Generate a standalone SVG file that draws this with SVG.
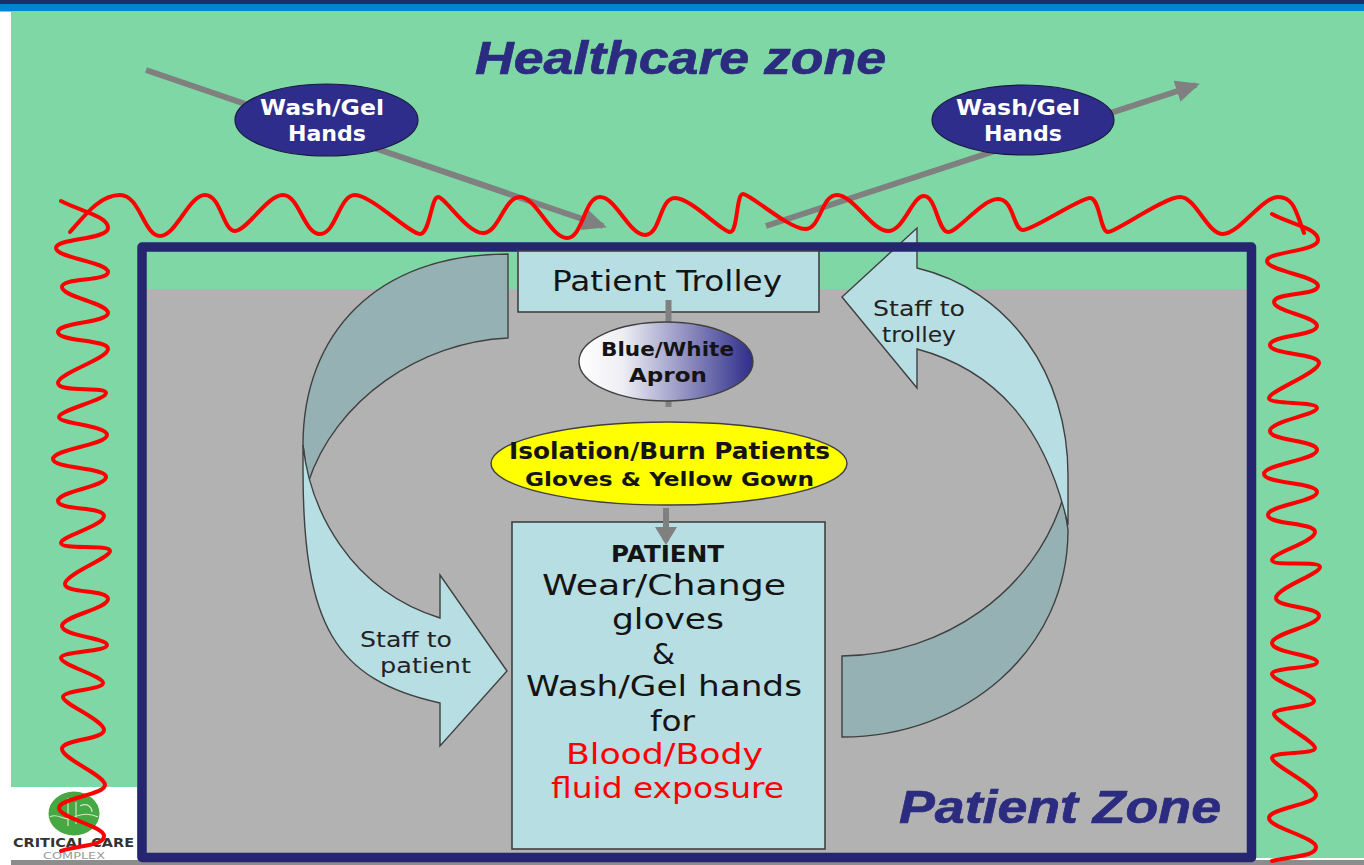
<svg xmlns="http://www.w3.org/2000/svg" width="1364" height="865" viewBox="0 0 1364 865">
<style>
text{font-family:"DejaVu Sans","Liberation Sans",sans-serif;fill:#141414}
.b{font-weight:bold}
.w{fill:#fff;font-weight:bold;font-size:22px}
.r{fill:#f00}
.h{font-family:"Liberation Sans",Arial,sans-serif;font-weight:bold;font-style:italic;fill:#2b2b80;stroke:#2b2b80;stroke-width:.7}
.wave{fill:none;stroke:#f00;stroke-width:4;stroke-linecap:round;stroke-linejoin:round}
.g{stroke:#808080;stroke-width:6;fill:none}
.box{fill:#b7dee3;stroke:#404040;stroke-width:1.6}
.lt{fill:#b7dee3;stroke:#404040;stroke-width:1.4;stroke-linejoin:miter}
.dk{fill:#96b1b3;stroke:#404040;stroke-width:1.4}
.s{font-size:22px;fill:#222}
.m{font-size:29px}
</style>
<defs>
<linearGradient id="apronFill" x1="0" x2="1" y1="0" y2="0"><stop offset="0" stop-color="#fff"/><stop offset="0.25" stop-color="#eeeef4"/><stop offset="1" stop-color="#2e2d8b"/></linearGradient>
<marker id="ah" markerUnits="userSpaceOnUse" markerWidth="26" markerHeight="24" refX="20" refY="11" orient="auto"><path d="M0 0L24 11L0 22z" fill="#808080"/></marker>
<marker id="ahs" markerUnits="userSpaceOnUse" markerWidth="20" markerHeight="24" refX="14" refY="11" orient="auto"><path d="M0 0L18 11L0 22z" fill="#808080"/></marker>
</defs>

<g id="background">
<rect width="1364" height="865" fill="#fff"/>
<rect x="0" y="0" width="1364" height="4" fill="#1a2f6b"/>
<rect x="0" y="4" width="1364" height="7.5" fill="#0085d5"/>
<rect x="11" y="11.5" width="1353" height="846.5" fill="#7fd7a6"/>
<rect x="11" y="787" width="126" height="73" fill="#fff"/>
<rect x="1256" y="858" width="108" height="1.5" fill="#fff"/>
<rect x="11" y="860" width="1353" height="5" fill="#8c8c8c"/>
<rect x="147" y="289" width="1100" height="566" fill="#b2b2b2"/>
</g>

<g id="logo">
<ellipse cx="74" cy="813.500" rx="25.500" ry="22" fill="#46a843"/>
<path d="M50 817C58 812 64 822 72 818S88 812 98 817M68 798V826M76 802V824M80 806C88 802 92 808 92 812" fill="none" stroke="#cfe8c8" stroke-width="1.200"/>
<text x="13" y="847" class="b" font-size="12.500" textLength="121" lengthAdjust="spacingAndGlyphs" style="fill:#333">CRITICAL CARE</text>
<text x="43" y="859" font-size="9" textLength="62" lengthAdjust="spacingAndGlyphs" style="fill:#999">COMPLEX</text>
</g>

<g id="connectors">
<line x1="146" y1="70" x2="603" y2="226" class="g" marker-end="url(#ah)"/>
<line x1="766" y1="226" x2="1196" y2="85" class="g" marker-end="url(#ah)"/>
</g>

<g id="staff-to-patient-arrow">
<path class="dk" d="M508 254C375 254 303 335 303 445L308 483C335 400 420 342 508 338Z"/>
<path class="lt" d="M303 445C310 510 350 590 440 618V575L507 671L440 746V703C335 680 303 625 303 470Z"/>
</g>
<g id="staff-to-trolley-arrow">
<path class="dk" d="M842 656C945 655 1035 590 1063 498L1068 530C1068 650 965 737 842 737Z"/>
<path class="lt" d="M917 268C1010 290 1068 375 1068 475V525C1045 425 995 370 917 349V388L842 297L917 228Z"/>
</g>

<g id="patient-zone-frame">
<rect x="142" y="247" width="1109.500" height="610.500" fill="none" stroke="#26256f" stroke-width="9.500" stroke-linejoin="round"/>
</g>

<g id="patient-trolley">
<rect class="box" x="518" y="251" width="301" height="61"/>
<text x="552" y="291" class="m" textLength="230" lengthAdjust="spacingAndGlyphs">Patient Trolley</text>
</g>
<g id="trolley-apron-connector">
<line x1="668.500" y1="300" x2="668.500" y2="407" class="g"/>
</g>
<g id="apron">
<ellipse cx="666" cy="361.500" rx="87" ry="39.500" fill="url(#apronFill)" stroke="#404040" stroke-width="1.400"/>
<text x="601" y="356" class="b" font-size="20" textLength="133" lengthAdjust="spacingAndGlyphs">Blue/White</text>
<text x="629" y="382" class="b" font-size="20" textLength="78" lengthAdjust="spacingAndGlyphs">Apron</text>
</g>
<g id="isolation">
<ellipse cx="669" cy="463.500" rx="178" ry="41.500" fill="#ff0" stroke="#404040" stroke-width="1.400"/>
<text x="509" y="459" class="b" font-size="23" textLength="321" lengthAdjust="spacingAndGlyphs">Isolation/Burn Patients</text>
<text x="525" y="486" class="b" font-size="20" textLength="289" lengthAdjust="spacingAndGlyphs">Gloves &amp; Yellow Gown</text>
</g>
<g id="patient">
<rect class="box" x="512" y="522" width="313" height="327"/>
<text x="611" y="562" class="b" font-size="23" textLength="113" lengthAdjust="spacingAndGlyphs">PATIENT</text>
<text x="542" y="595" class="m" textLength="244" lengthAdjust="spacingAndGlyphs">Wear/Change</text>
<text x="612" y="629" class="m" textLength="112" lengthAdjust="spacingAndGlyphs">gloves</text>
<text x="652" y="664" class="m" textLength="23" lengthAdjust="spacingAndGlyphs">&amp;</text>
<text x="526" y="696" class="m" textLength="276" lengthAdjust="spacingAndGlyphs">Wash/Gel hands</text>
<text x="650" y="731" class="m" textLength="45" lengthAdjust="spacingAndGlyphs">for</text>
<text x="566" y="764" class="m r" textLength="197" lengthAdjust="spacingAndGlyphs">Blood/Body</text>
<text x="551" y="798" class="m r" textLength="233" lengthAdjust="spacingAndGlyphs">fluid exposure</text>
</g>
<g id="isolation-patient-connector">
<line x1="666" y1="508" x2="666" y2="541" class="g" marker-end="url(#ahs)"/>
</g>
<g id="staff-labels">
<text x="360" y="647" class="s" textLength="92" lengthAdjust="spacingAndGlyphs">Staff to</text>
<text x="380" y="673" class="s" textLength="91" lengthAdjust="spacingAndGlyphs">patient</text>
<text x="873" y="316" class="s" textLength="92" lengthAdjust="spacingAndGlyphs">Staff to</text>
<text x="882" y="342" class="s" textLength="74" lengthAdjust="spacingAndGlyphs">trolley</text>
</g>

<g id="wash-left">
<ellipse cx="326.500" cy="120" rx="91.500" ry="36" fill="#2e2d8b" stroke="#1a1a40" stroke-width="1.200"/>
<text x="260" y="115" class="w" textLength="124" lengthAdjust="spacingAndGlyphs">Wash/Gel</text>
<text x="288" y="141" class="w" textLength="78" lengthAdjust="spacingAndGlyphs">Hands</text>
</g>
<g id="wash-right">
<ellipse cx="1023" cy="120" rx="91" ry="35" fill="#2e2d8b" stroke="#1a1a40" stroke-width="1.200"/>
<text x="956" y="115" class="w" textLength="124" lengthAdjust="spacingAndGlyphs">Wash/Gel</text>
<text x="984" y="141" class="w" textLength="78" lengthAdjust="spacingAndGlyphs">Hands</text>
</g>

<g id="zone-titles">
<text x="475" y="74" class="h" font-size="47" textLength="411" lengthAdjust="spacingAndGlyphs">Healthcare zone</text>
<text x="899" y="823" class="h" font-size="47" textLength="322" lengthAdjust="spacingAndGlyphs">Patient Zone</text>
</g>

<g id="zone-boundary">
<path class="wave" d="M70 232C85 215 100 195 120 195S144 236 160 236S189 195 205 195S223 231 235 231S267 195 283 195S304 234 320 234S339 195 355 195S410 234 420 234S431 197 438 197S467 233 483 233S504 197 520 197S551 238 567 238S584 197 600 197S629 235 645 235S659 198 675 198S722 232 730 232S736 194 743 194S789 229 805 229S821 195 837 195S872 231 888 231S912 196 924 196S938 232 948 232S982 199 998 199S1013 230 1023 230S1080 198 1090 198S1100 232 1108 232S1164 197 1180 197S1207 234 1223 234S1262 197 1278 197S1296 212 1304 233"/>
<path class="wave" d="M61 201C80 211 108 216 108 228S56 238 56 248S108 262 108 272S62 277 62 287S108 303 108 313S58 322 58 332S108 339 108 349S58 373 58 383S106 386 106 393S59 410 59 417S107 425 107 435S53 449 53 459S106 467 106 477S58 491 58 501S104 506 104 516S61 536 61 543S110 544 110 551S65 574 65 584S108 589 108 599S62 616 62 626S107 638 107 645S61 651 61 658S103 676 103 683S63 690 63 697S104 720 104 730S62 739 62 749S105 775 105 785S59 798 59 808S104 826 104 836S80 845 61 851"/>
<path class="wave" d="M1272 214C1290 224 1318 228 1318 240S1267 251 1267 261S1318 276 1318 286S1274 292 1274 302S1317 316 1317 326S1270 335 1270 345S1319 353 1319 363S1269 391 1269 398S1317 401 1317 408S1270 421 1270 431S1317 440 1317 450S1264 464 1264 474S1317 482 1317 492S1268 505 1268 515S1315 522 1315 532S1272 553 1272 560S1320 560 1320 567S1276 588 1276 598S1319 606 1319 616S1272 633 1272 643S1317 655 1317 662S1272 667 1272 674S1314 694 1314 701S1274 707 1274 714S1315 741 1315 748S1272 751 1272 758S1316 785 1316 795S1269 808 1269 818S1316 837 1316 847S1290 856 1272 861"/>
</g>
</svg>
